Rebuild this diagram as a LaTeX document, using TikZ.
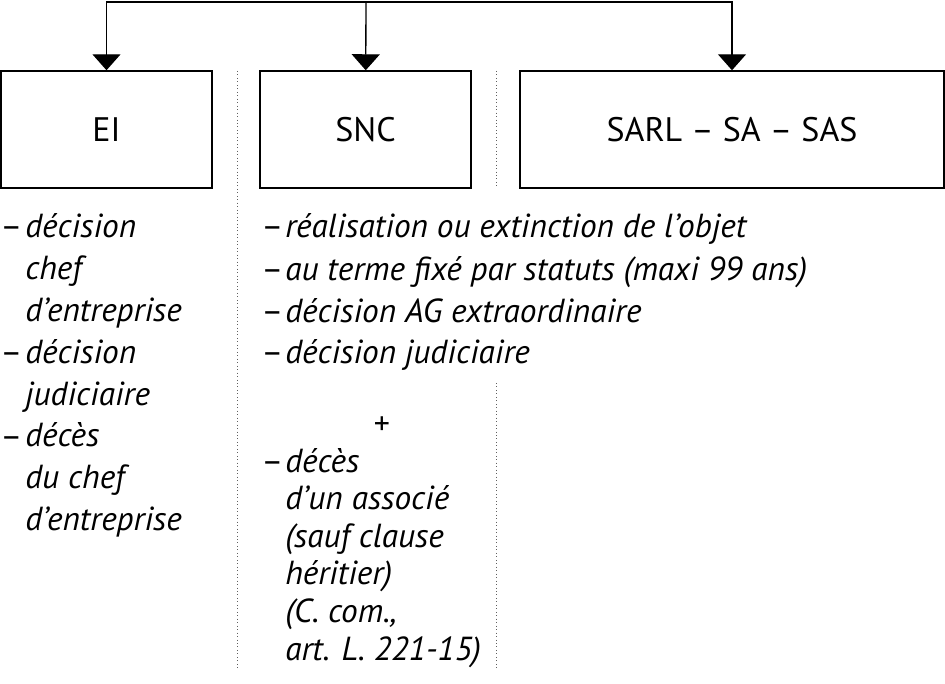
\documentclass[tikz,border=0pt]{standalone}
\usepackage{fontspec}
\setmainfont{PT Sans}
\usetikzlibrary{arrows.meta,positioning}
\definecolor{txt}{HTML}{000000}
\definecolor{sepc}{HTML}{606060}

\begin{document}
\begin{tikzpicture}[
  x=0.75pt, y=-0.75pt,
  >={Triangle[width=21pt,length=12pt]},
  box/.style={draw=txt, line width=1.1pt, minimum height=87.75pt, inner sep=0pt, font=\fontsize{25.5}{28}\selectfont},
  link/.style={->, line width=1pt, color=txt},
  sep/.style={dotted, line width=0.6pt, color=sepc},
  dsh/.style={anchor=base west, inner sep=0pt, font=\fontsize{25}{31.3}\selectfont},
  item/.style={anchor=base west, inner sep=0pt, align=left, font=\fontsize{25}{31.3}\selectfont\itshape},
]
\useasboundingbox (0,0) rectangle (945,684);

% the three legal forms
\node[box, minimum width=158.25pt] (EI) at (106.5,129.5) {EI};
\node[box, minimum width=158.25pt] (SNC) at (365.5,129.5) {SNC};
\node[box, minimum width=318pt] (SARL) at (732,129.5) {SARL -- SA -- SAS};

\coordinate (hub) at (366,2);
\draw[link] (hub) -| (EI);
\draw[link] (hub) -- (SNC);
\draw[link] (hub) -| (SARL);

% dotted separators
\coordinate (s1a) at (237,71);
\coordinate (s1b) at (237,668);
\coordinate (s2a) at (496,71);
\coordinate (s2b) at (496,188);
\coordinate (s3a) at (496,383);
\coordinate (s3b) at (496,668);
\draw[sep] (s1a) -- (s1b);
\draw[sep] (s2a) -- (s2b);
\draw[sep] (s3a) -- (s3b);

% EI (multi-line nodes sit on their last baseline)
\node[dsh] (ei1d) at (0,238) {--};
\node[item] (ei1) at (25,321.4) {décision\\chef\\d’entreprise};
\node[dsh] (ei2d) at (0,363) {--};
\node[item] (ei2) at (25,405) {décision\\judiciaire};
\node[dsh] (ei3d) at (0,447) {--};
\node[item] (ei3) at (25,530) {décès\\du chef\\d’entreprise};

% SNC
\node[dsh] (snc1d) at (261,238) {--};
\node[item] (snc1) at (285,238) {réalisation ou extinction de l’objet};
\node[dsh] (snc2d) at (261,280) {--};
\node[item] (snc2) at (285,280) {au terme fixé par statuts (maxi 99 ans)};
\node[dsh] (snc3d) at (261,322) {--};
\node[item] (snc3) at (285,322) {décision AG extraordinaire};
\node[dsh] (snc4d) at (261,363) {--};
\node[item] (snc4) at (285,363) {décision judiciaire};

\node[dsh] (snc5d) at (261,472) {--};
\node[item, font=\fontsize{25}{28.2}\selectfont\itshape] (snc5) at (285,660) {décès\\d’un associé\\(sauf clause\\héritier)\\(C. com.,\\art. L. 221-15)};
\node[dsh, font=\fontsize{24}{24}\selectfont\itshape] (plus) at (373,434) {+};

\end{tikzpicture}
\end{document}
